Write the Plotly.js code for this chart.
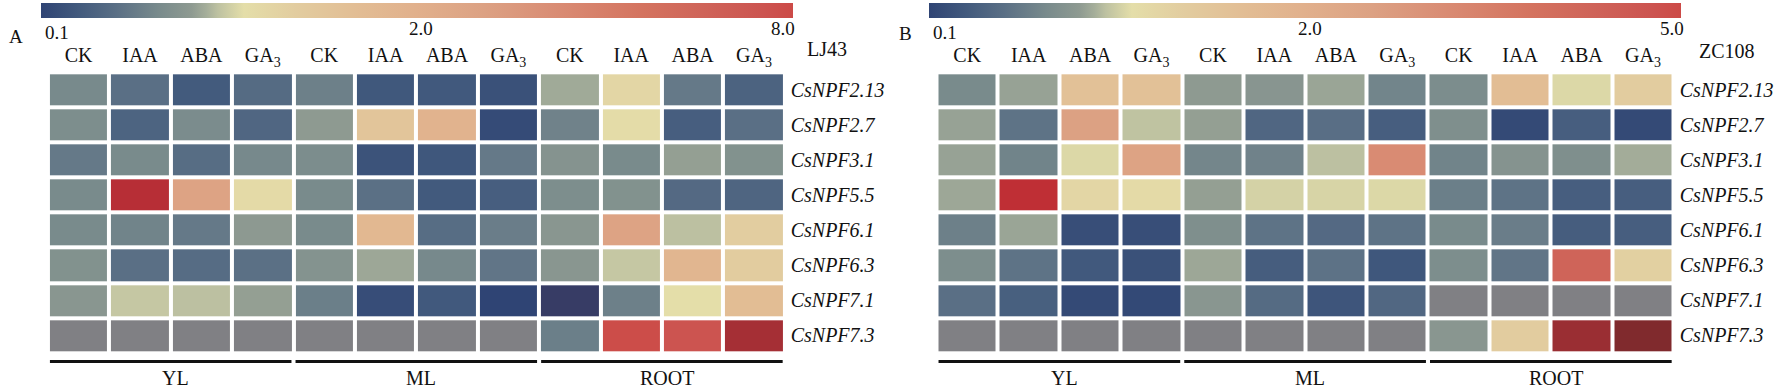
<!DOCTYPE html>
<html><head><meta charset="utf-8">
<script src="https://cdn.plot.ly/plotly-3.0.1.min.js"></script>
<style>html,body{margin:0;padding:0;background:#fff;}</style>
</head><body><div id="chart" style="width:1784px;height:388px;"></div>
<script>
// ---------- data ----------
const genes = ['CsNPF2.13','CsNPF2.7','CsNPF3.1','CsNPF5.5','CsNPF6.1','CsNPF6.3','CsNPF7.1','CsNPF7.3'];
const treatments = ['CK','IAA','ABA','GA<sub>3</sub>'];
const tissues = ['YL','ML','ROOT'];
const cultivars = ['LJ43','ZC108'];
const scaleA = [0.1, 2.0, 8.0];
const scaleB = [0.1, 2.0, 5.0];

// relative expression, rows = genes, cols = CK, IAA, ABA, GA3 (null = not detected)
const lj43_YL = [
  [0.69,0.48,0.30,0.44],[0.73,0.38,0.71,0.40],[0.56,0.70,0.46,0.68],[0.70,8.84,2.96,1.18],
  [0.70,0.64,0.56,0.85],[0.77,0.48,0.45,0.49],[0.82,1.02,0.99,0.88],[null,null,null,null]];
const lj43_ML = [
  [0.61,0.27,0.28,0.21],[0.86,1.54,1.92,0.16],[0.72,0.23,0.26,0.56],[0.70,0.49,0.29,0.33],
  [0.70,1.81,0.46,0.59],[0.78,0.91,0.68,0.53],[0.60,0.18,0.28,0.10],[null,null,null,null]];
const lj43_ROOT = [
  [0.92,1.24,0.56,0.37],[0.63,1.16,0.33,0.48],[0.79,0.70,0.88,0.77],[0.73,0.77,0.43,0.39],
  [0.82,2.96,0.99,1.37],[0.82,1.02,1.85,1.39],[0.05,0.61,1.13,1.70],[0.60,7.88,7.52,9.44]];
const zc108_YL = [
  [0.70,0.89,1.62,1.62],[0.89,0.51,2.54,1.00],[0.89,0.64,1.10,2.48],[0.91,5.24,1.24,1.18],
  [0.61,0.90,0.19,0.19],[0.73,0.51,0.28,0.21],[0.48,0.34,0.15,0.14],[null,null,null,null]];
const zc108_ML = [
  [0.86,0.81,0.90,0.65],[0.88,0.40,0.47,0.33],[0.66,0.63,0.99,3.14],[0.88,1.07,1.08,1.10],
  [0.74,0.51,0.43,0.51],[0.91,0.32,0.50,0.26],[0.82,0.44,0.25,0.41],[null,null,null,null]];
const zc108_ROOT = [
  [0.72,1.70,1.10,1.39],[0.74,0.15,0.33,0.15],[0.64,0.79,0.74,0.93],[0.60,0.51,0.33,0.33],
  [0.70,0.59,0.32,0.33],[0.73,0.53,4.28,1.33],[null,null,null,null],[0.82,1.39,6.2,6.9]];

// ---------- style ----------
const W = 1784, H = 388;
const FONT = 'Liberation Serif, Times New Roman, serif';
const NA_COLOR = '#808084';
const stops = [
  [-0.015,'#383b63'],[0.00,'#2f4474'],[0.05,'#425a7d'],[0.10,'#5a6f85'],[0.155,'#788a8c'],
  [0.20,'#8e9a91'],[0.22,'#a5ae9a'],[0.235,'#bdc1a1'],[0.27,'#e4dea9'],[0.34,'#e2cc9f'],
  [0.42,'#e2bd94'],[0.50,'#e1b08c'],[0.59,'#dca183'],[0.69,'#d98b73'],[0.80,'#d4735f'],
  [0.88,'#cf6459'],[0.96,'#cc5450'],[1.00,'#cc4a47'],[1.04,'#bf2f35'],[1.07,'#b72e36'],
  [1.12,'#a52f35'],[1.20,'#9a2e33'],[1.32,'#7f2a2d']];
const pMin = stops[0][0], pMax = stops[stops.length-1][0];
const csIn = stops.filter(s => s[0] >= 0 && s[0] <= 1).map(s => [s[0], s[1]]);
const csOut = stops.map(s => [(s[0]-pMin)/(pMax-pMin), s[1]]);

function toPos(v, sc){
  if (v === null) return null;
  const [lo, mid, hi] = sc;
  return v <= mid ? 0.5*(v-lo)/(mid-lo) : 0.5 + 0.5*(v-mid)/(hi-mid);
}
function matrix(yl, ml, root){ return genes.map((g,i) => yl[i].concat(ml[i], root[i])); }

const px = v => v / W, py = v => 1 - v / H;

const panels = [
  {m: matrix(lj43_YL, lj43_ML, lj43_ROOT), sc: scaleA, xa:'x', ya:'y', x0: 47.9, x1: 784.7, cb0: 41, cb1: 793},
  {m: matrix(zc108_YL, zc108_ML, zc108_ROOT), sc: scaleB, xa:'x2', ya:'y2', x0: 936.5, x1: 1673.7, cb0: 929.3, cb1: 1681.7}
];
const nCol = treatments.length * tissues.length;
const xs = Array.from({length: nCol}, (_, i) => i);
const ys = genes.map((g, i) => i);

const traces = [];
panels.forEach(p => {
  const pos = p.m.map(r => r.map(v => toPos(v, p.sc)));
  const common = {type:'heatmap', x: xs, y: ys, xaxis: p.xa, yaxis: p.ya, xgap: 4, ygap: 4, hoverinfo:'skip'};
  traces.push(Object.assign({}, common, {
    z: p.m.map(r => r.map(v => v === null ? 1 : null)),
    colorscale: [[0, NA_COLOR],[1, NA_COLOR]], showscale: false, zmin: 0, zmax: 1}));
  traces.push(Object.assign({}, common, {
    z: pos.map(r => r.map(v => (v !== null && v >= 0 && v <= 1) ? v : null)),
    colorscale: csIn, zmin: 0, zmax: 1, showscale: true,
    colorbar: {orientation:'h', x: px(p.cb0), xanchor:'left', y: py(3.5), yanchor:'top',
      len: p.cb1 - p.cb0, lenmode:'pixels', thickness: 15, thicknessmode:'pixels',
      outlinewidth: 0, showticklabels: false, ticks: '', xpad: 0, ypad: 0}}));
  traces.push(Object.assign({}, common, {
    z: pos.map(r => r.map(v => (v !== null && (v < 0 || v > 1)) ? v : null)),
    colorscale: csOut, zmin: pMin, zmax: pMax, showscale: false}));
});

const yDom = [py(353), py(72.3)];
function xAxis(p, anchor){
  return {domain:[px(p.x0), px(p.x1)], range:[-0.5, nCol-0.5], side:'top', anchor: anchor,
    tickvals: xs, ticktext: xs.map(i => treatments[i % treatments.length]),
    tickfont:{family: FONT, size: 20, color:'#111'}, ticks:'', showgrid:false, zeroline:false,
    showline:false, fixedrange:true, ticklabelstandoff: 5};
}
function yAxis(anchor){
  return {domain: yDom, range:[genes.length-0.5, -0.5], side:'right', anchor: anchor,
    tickvals: ys, ticktext: genes.map(g => '<i>' + g + '</i>'),
    tickfont:{family: FONT, size: 20, color:'#111'}, ticks:'', showgrid:false, zeroline:false,
    showline:false, fixedrange:true, ticklabelstandoff: 5};
}

const annotations = [];
const shapes = [];
const txt = (text, x, y, xanchor, size, extra) => annotations.push(Object.assign({
  text: text, x: px(x), y: py(y), xref:'paper', yref:'paper', xanchor: xanchor, yanchor:'middle',
  showarrow:false, font:{family: FONT, size: size, color:'#111'}}, extra || {}));

txt('A', 7, 36, 'left', 19);
txt('B', 897, 33, 'left', 19);
[[panels[0], scaleA, 'LJ43', 805, 49], [panels[1], scaleB, 'ZC108', 1697, 51]].forEach(([p, sc, name, nx, ny]) => {
  txt(sc[0].toFixed(1), p.cb0 + 2, 32.5, 'left', 19);
  txt(sc[1].toFixed(1), (p.cb0 + p.cb1)/2 + 4, 28.5, 'center', 19);
  txt(sc[2].toFixed(1), p.cb1 + 4, 28.5, 'right', 19);
  txt(name, nx, ny, 'left', 20);
});

panels.forEach(p => {
  tissues.forEach((t, k) => {
    const a = k * treatments.length - 0.5 + 0.033, b = (k+1) * treatments.length - 0.5 - 0.033;
    shapes.push({type:'line', xref: p.xa, yref:'paper', x0: a, x1: b, y0: py(361.5), y1: py(361.5),
      line:{color:'#111', width: 3}});
    annotations.push({text: t, xref: p.xa, yref:'paper', x: (a+b)/2, y: py(378), xshift: 5,
      xanchor:'center', yanchor:'middle', showarrow:false, font:{family: FONT, size: 20, color:'#111'}});
  });
});

const layout = {
  width: W, height: H, margin:{l:0, r:0, t:0, b:0}, paper_bgcolor:'#fff', plot_bgcolor:'#fff',
  showlegend:false, xaxis: xAxis(panels[0], 'y'), yaxis: yAxis('x'),
  xaxis2: xAxis(panels[1], 'y2'), yaxis2: yAxis('x2'), annotations: annotations, shapes: shapes
};
Plotly.newPlot('chart', traces, layout, {staticPlot: true, displayModeBar: false});
</script></body></html>
